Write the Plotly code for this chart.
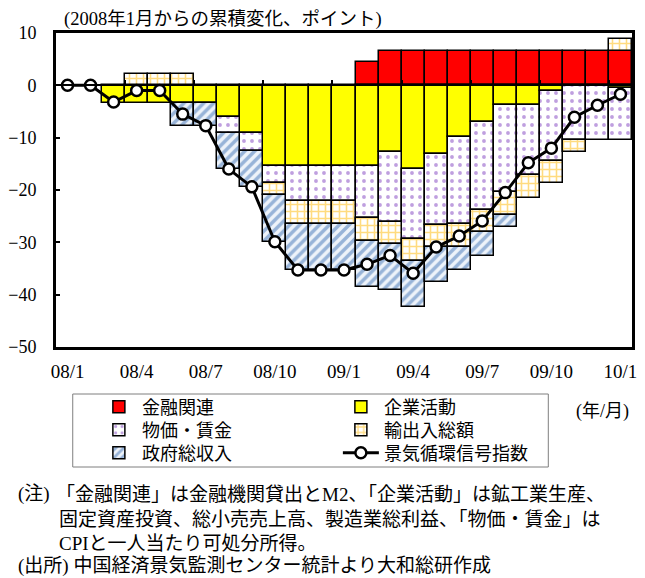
import plotly.graph_objects as go

# ---- data -------------------------------------------------------------
months = ["08/1", "08/2", "08/3", "08/4", "08/5", "08/6", "08/7", "08/8", "08/9",
          "08/10", "08/11", "08/12", "09/1", "09/2", "09/3", "09/4", "09/5", "09/6",
          "09/7", "09/8", "09/9", "09/10", "09/11", "09/12", "10/1"]
tick_labels = ["08/1", "08/4", "08/7", "08/10", "09/1", "09/4", "09/7", "09/10", "10/1"]

# contributions to the cumulative change since Jan 2008 (points)
financial = [None, None, None, None, None, None, None, None, None, None, None, None, None,
             4.4, 6.6, 6.6, 6.6, 6.6, 6.6, 6.6, 6.6, 6.6, 6.6, 6.6, 6.6]
corporate = [None, None, -3.3, -3.3, -3.3, -3.3, -3.3, -6.0, -9.2, -15.5, -15.5, -15.5, -15.5,
             -15.5, -12.7, -16.0, -13.2, -9.9, -7.1, -3.8, -3.8, -1.0, None, None, -0.5]
prices_wages = [None, None, None, None, None, None, None, -3.2, -3.4, -3.2, -6.6, -6.6, -6.6,
                -9.9, -13.4, -13.4, -13.4, -16.6, -16.7, -16.6, -13.3, -13.4, -10.5, -10.5, -10.0]
trade = [None, None, None, 2.2, 2.2, 2.2, None, None, None, -2.3, -4.4, -4.4, -4.4,
         -4.4, -4.2, -4.2, -4.3, -4.3, -4.2, -4.4, -4.4, -4.3, -2.2, None, 2.2]
gov_revenue = [None, None, None, None, None, -4.4, -4.4, -6.8, -6.8, -8.9, -8.8, -8.8, -8.8,
               -8.8, -8.8, -8.8, -6.6, -4.4, -4.6, -2.2, None, None, None, None, None]
signal_index = [0, 0, -3.2, -1.0, -1.0, -5.5, -7.7, -16.0, -19.4, -29.9, -35.3, -35.3, -35.3,
                -34.2, -32.5, -35.9, -30.9, -28.8, -25.9, -20.5, -14.8, -12.0, -6.1, -3.8, -1.7]

y_range = [-50, 10]
y_ticks = [10, 0, -10, -20, -30, -40, -50]

# ---- geometry ---------------------------------------------------------
W, H = 645, 578
ML, MR, MT, MB = 52, 8, 33, 231
PW, PH = W - ML - MR, H - MT - MB


def px_x(px):
    return (px - ML) / PW


def px_y(py):
    return (H - MB - py) / PH


FONT = "Liberation Serif, Noto Sans CJK JP"
pos = list(range(len(months)))
tick_pos = [months.index(t) for t in tick_labels]
boundary_ticks = [p - 0.5 for p in tick_pos]
x_range = [-0.5, len(months) - 0.5]

OUTLINE = dict(color="black", width=1.5)

fig = go.Figure()
fig.add_trace(go.Bar(x=pos, y=financial, name="金融関連", legend="legend",
                     marker=dict(color="#FF0000", line=OUTLINE)))
fig.add_trace(go.Bar(x=pos, y=corporate, name="企業活動", legend="legend",
                     marker=dict(color="#FFFF00", line=OUTLINE)))
fig.add_trace(go.Bar(x=pos, y=prices_wages, name="物価・賃金", legend="legend2",
                     marker=dict(color="white", line=OUTLINE,
                                 pattern=dict(shape=".", fgcolor="#7F3FBF", bgcolor="white",
                                              size=8, solidity=0.18))))
fig.add_trace(go.Bar(x=pos, y=trade, name="輸出入総額", legend="legend2",
                     marker=dict(color="white", line=OUTLINE,
                                 pattern=dict(shape="+", fgcolor="#FFB800", bgcolor="white",
                                              size=7, solidity=0.4))))
fig.add_trace(go.Bar(x=pos, y=gov_revenue, name="政府総収入", legend="legend3",
                     marker=dict(color="white", line=OUTLINE,
                                 pattern=dict(shape="/", fgcolor="#3F74B5", bgcolor="#EEF3FA",
                                              size=7, solidity=0.5))))
fig.add_trace(go.Scatter(x=pos, y=signal_index, name="景気循環信号指数", legend="legend3",
                         xaxis="x2", yaxis="y", mode="lines+markers",
                         line=dict(color="black", width=3),
                         marker=dict(symbol="circle", size=11, color="white",
                                     line=dict(color="black", width=2.5))))

legend_common = dict(orientation="h", xanchor="left", yanchor="middle", x=px_x(92.5),
                     entrywidth=191, itemwidth=36, bgcolor="rgba(0,0,0,0)", borderwidth=0,
                     font=dict(family=FONT, size=18, color="black"))

fig.update_layout(
    width=W, height=H,
    margin=dict(l=ML, r=MR, t=MT, b=MB),
    barmode="relative", bargap=0,
    plot_bgcolor="white", paper_bgcolor="white",
    font=dict(family=FONT, size=18, color="black"),
    showlegend=True,
    xaxis=dict(range=x_range, tickvals=tick_pos, ticktext=tick_labels, ticks="",
               showgrid=False, zeroline=False, showline=True, linecolor="black",
               linewidth=3, mirror=True, ticklabelstandoff=5,
               tickfont=dict(family=FONT, size=19)),
    xaxis2=dict(overlaying="x", anchor="free",
                position=(0 - y_range[0]) / (y_range[1] - y_range[0]),
                range=x_range, tickvals=boundary_ticks, showticklabels=False,
                ticks="inside", ticklen=5, tickwidth=1.5, tickcolor="black",
                showline=True, linecolor="black", linewidth=1.5,
                showgrid=False, zeroline=False),
    yaxis=dict(range=y_range, tickvals=y_ticks, showgrid=False, zeroline=False,
               showline=True, linecolor="black", linewidth=3, mirror=True,
               ticks="inside", ticklen=4, tickwidth=1.5, tickcolor="black",
               ticklabelstandoff=13, tickfont=dict(family=FONT, size=18)),
    legend=dict(legend_common, y=px_y(407)),
    legend2=dict(legend_common, y=px_y(430)),
    legend3=dict(legend_common, y=px_y(453)),
)

# legend frame
fig.add_shape(type="rect", xref="paper", yref="paper",
              x0=px_x(69), x1=px_x(552), y0=px_y(394), y1=px_y(467),
              line=dict(color="#7F7F7F", width=1), fillcolor="rgba(0,0,0,0)", layer="below")

texts = [
    ("(2008年1月からの累積変化、ポイント)", 58, 19, 18.5),
    ("(年/月)", 578, 411, 18),
    ("(注)", 11, 494, 19),
    ("「金融関連」は金融機関貸出とM2、「企業活動」は鉱工業生産、", 50, 494, 19),
    ("固定資産投資、総小売売上高、製造業総利益、「物価・賃金」は", 53, 519, 19),
    ("CPIと一人当たり可処分所得。", 53, 543, 19),
    ("(出所) 中国経済景気監測センター統計より大和総研作成", 11, 566, 19),
]
for txt, tx, ty, size in texts:
    fig.add_annotation(text=txt, xref="paper", yref="paper", x=px_x(tx), y=px_y(ty),
                       xanchor="left", yanchor="middle", showarrow=False,
                       font=dict(family=FONT, size=size, color="black"))

fig.write_html("out.html")
